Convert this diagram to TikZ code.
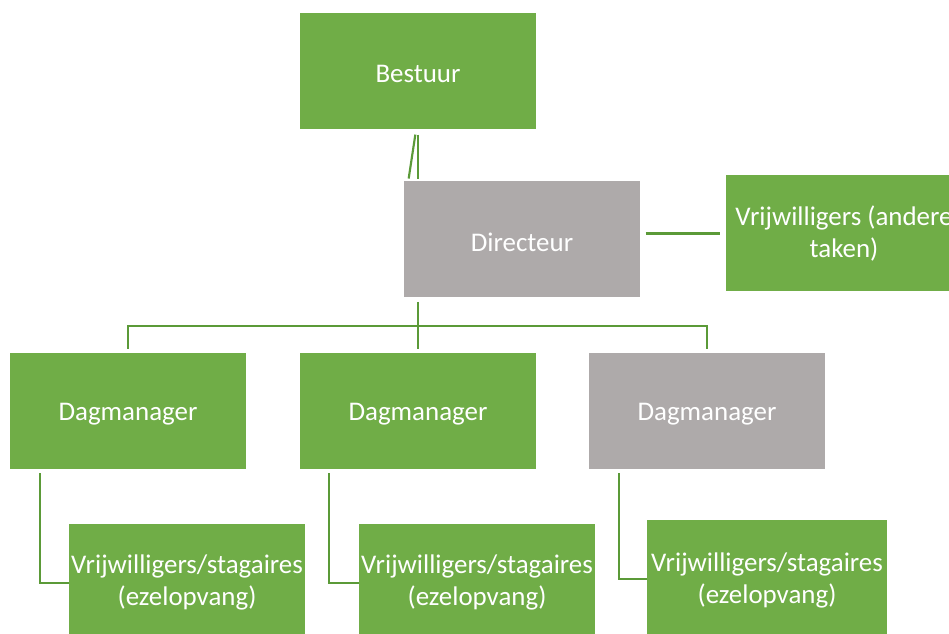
\documentclass[tikz,border=0pt]{standalone}
\usepackage{fontspec}
\setmainfont{Carlito}
\definecolor{boxgreen}{HTML}{70AD47}
\definecolor{boxgrey}{HTML}{AEAAAA}
\definecolor{linegreen}{HTML}{5B9A38}
\newcommand{\lowtext}[1]{\raisebox{-2.5pt}[\height][\depth]{#1}}
\tikzset{
  orgbox/.style={fill=boxgreen, text=white, minimum width=177pt, minimum height=87pt,
    inner sep=0pt, align=center, font=\fontsize{20.2}{24}\selectfont},
  greybox/.style={orgbox, fill=boxgrey},
  link/.style={draw=linegreen, line width=1.6pt}
}
\begin{document}
\begin{tikzpicture}[x=0.75pt, y=-0.75pt]
  \useasboundingbox (0,0) rectangle (949,634);
  % boxes
  \node[orgbox] (bestuur) at (418,71) {\lowtext{Bestuur}};
  \node[greybox] (directeur) at (522,239.5) {\lowtext{Directeur}};
  \node[orgbox] (andere) at (844,233.5) {Vrijwilligers (andere\\taken)};
  \node[orgbox] (dag1) at (128,411) {\lowtext{Dagmanager}};
  \node[orgbox] (dag2) at (418,411) {\lowtext{Dagmanager}};
  \node[greybox] (dag3) at (707,411) {\lowtext{Dagmanager}};
  \node[orgbox] (vrij1) at (187,582) {Vrijwilligers/stagaires\\(ezelopvang)};
  \node[orgbox] (vrij2) at (477,582) {Vrijwilligers/stagaires\\(ezelopvang)};
  \node[orgbox, minimum width=180pt, minimum height=90pt] (vrij3) at (767,580) {Vrijwilligers/stagaires\\(ezelopvang)};
  % connectors
  \coordinate (bus) at (418,326);
  \draw[link] ([yshift=-4]bestuur.south) -- ([yshift=2]bestuur.south |- directeur.north);
  \draw[link] ([xshift=-2,yshift=-4]bestuur.south) -- ([xshift=-7,yshift=2]bestuur.south |- directeur.north);
  \draw[link] ([xshift=4]directeur.east |- andere.west) -- ([xshift=-4]andere.west);
  \draw[link] ([yshift=-3]bus |- directeur.south) -- ([yshift=3]dag2.north);
  \draw[link] ([yshift=3]dag1.north) -- (dag1.north |- bus) -- (dag3.north |- bus) -- ([yshift=3]dag3.north);
  \draw[link] ([xshift=23,yshift=-3]dag1.south west) |- ([yshift=-1]vrij1.west);
  \draw[link] ([xshift=22,yshift=-3]dag2.south west) |- ([yshift=-1]vrij2.west);
  \draw[link] ([xshift=23,yshift=-3]dag3.south west) |- ([yshift=1]vrij3.west);
\end{tikzpicture}
\end{document}
